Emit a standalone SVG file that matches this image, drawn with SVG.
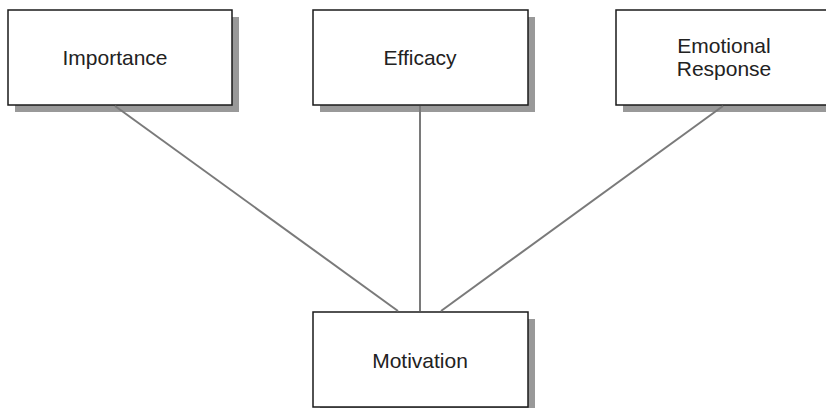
<svg xmlns="http://www.w3.org/2000/svg" width="826" height="408" viewBox="0 0 826 408">
  <style>
    .shadow { fill: #999999; }
    .box { fill: #ffffff; stroke: #1a1a1a; stroke-width: 1.5; }
    .label { font-family: "Liberation Sans", Arial, sans-serif; font-size: 21px; fill: #222222; text-anchor: middle; }
    .link { stroke: #7a7a7a; stroke-width: 2; fill: none; }
  </style>
  <rect width="826" height="408" fill="#ffffff"/>

  <g id="importance">
    <rect class="shadow" x="15" y="17" width="224" height="95"/>
    <rect class="box" x="8" y="10" width="224" height="95"/>
    <text class="label" x="115" y="65">Importance</text>
  </g>

  <g id="efficacy">
    <rect class="shadow" x="320" y="17" width="215" height="95"/>
    <rect class="box" x="313" y="10" width="215" height="95"/>
    <text class="label" x="420" y="65">Efficacy</text>
  </g>

  <g id="emotional-response">
    <rect class="shadow" x="623" y="17" width="216" height="95"/>
    <rect class="box" x="616" y="10" width="216" height="95"/>
    <text class="label" x="724" y="53">Emotional</text>
    <text class="label" x="724" y="76">Response</text>
  </g>

  <g id="motivation">
    <rect class="shadow" x="320" y="319" width="215" height="95"/>
    <rect class="box" x="313" y="312" width="215" height="95"/>
    <text class="label" x="420" y="368">Motivation</text>
  </g>

  <g id="connectors">
    <line class="link" x1="115" y1="106" x2="398" y2="311"/>
    <line class="link" x1="420" y1="106" x2="420" y2="311"/>
    <line class="link" x1="723" y1="106" x2="441" y2="311"/>
  </g>
</svg>
